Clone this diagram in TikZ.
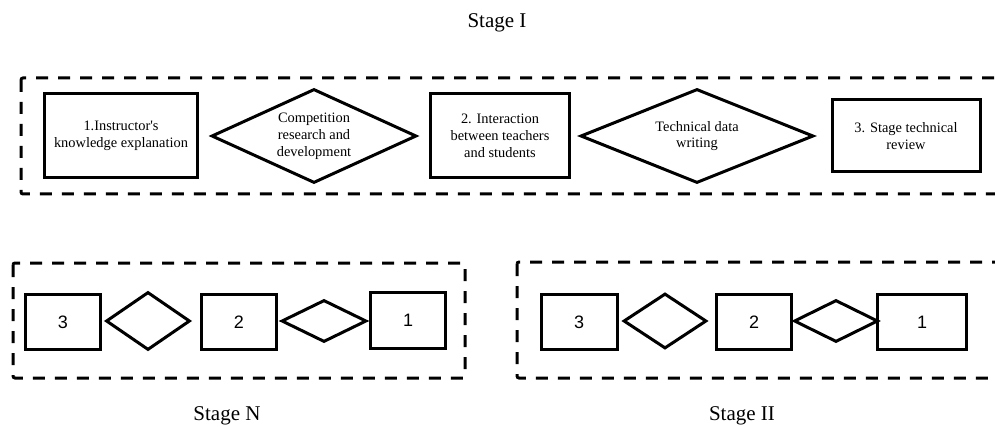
\documentclass[tikz,border=0pt]{standalone}
\usepackage{fontspec}
\setmainfont{Liberation Serif}
\setsansfont{Liberation Sans}
\usetikzlibrary{shapes.geometric}
\tikzset{
  stageframe/.style={draw, line width=1.5pt, dash pattern=on 6pt off 5pt, rounded corners=1pt},
  task/.style={draw, line width=1.5pt, align=center, inner sep=0pt,
    font=\fontsize{7.2}{8.4}\selectfont},
  link/.style={draw, diamond, aspect=2.2, line width=1.5pt, align=center, inner sep=0pt,
    font=\fontsize{7.2}{8.4}\selectfont},
  numbox/.style={draw, line width=1.5pt, inner sep=0pt, minimum height=27.5pt,
    font=\sffamily\fontsize{9}{10}\selectfont},
  stagelabel/.style={font=\fontsize{10.5}{12}\selectfont}
}

\begin{document}
\begin{tikzpicture}[x=0.5pt,y=-0.5pt]
    \useasboundingbox (0,0) rectangle (995,427);
    \clip (0,0) rectangle (995,427);

    % Stage I, top row
    \node[stagelabel] (stageI) at (497,23) {Stage I};
    \draw[stageframe] (21,78) rectangle (1010,194);

    \node[task, minimum width=76.5pt, minimum height=42pt] (explain) at (121,136) {1.Instructor\textquotesingle s\\knowledge explanation};
    \node[link, minimum width=102.5pt, minimum height=47pt] (research) at (314,136) {Competition\\research and\\development};
    \node[task, minimum width=69.5pt, minimum height=42pt] (interact) at (500,136) {2. Interaction\\between teachers\\and students};
    \node[link, aspect=2.5, minimum width=116.5pt, minimum height=47pt] (writing) at (697,136) {Technical data\\writing};
    \node[task, minimum width=74pt, minimum height=36pt] (review) at (906,136) {3. Stage technical\\review};

    % Stage N, bottom left
    \draw[stageframe] (13,263) rectangle (465,378);
    \node[numbox, minimum width=37.5pt] (nthree) at (63,322) {3};
    \node[link, minimum width=42pt, minimum height=29pt] (nlinkA) at (148,321) {};
    \node[numbox, minimum width=37.5pt] (ntwo) at (239,322) {2};
    \node[link, minimum width=42.5pt, minimum height=21pt] (nlinkB) at (324,321) {};
    \node[numbox, minimum width=37.5pt, minimum height=28pt] (none) at (408,320) {1};
    \node[stagelabel] (stageN) at (227,416) {Stage N};

    % Stage II, bottom right
    \draw[stageframe] (517,262) rectangle (1010,378);
    \node[numbox, minimum width=38pt] (iithree) at (579,322) {3};
    \node[link, minimum width=41.5pt, minimum height=27.5pt] (iilinkA) at (665,321) {};
    \node[numbox, minimum width=37.5pt] (iitwo) at (754,322) {2};
    \node[link, minimum width=42pt, minimum height=21pt] (iilinkB) at (836,321) {};
    \node[numbox, minimum width=44.5pt] (iione) at (922,322) {1};
    \node[stagelabel] (stageII) at (742,416) {Stage II};
\end{tikzpicture}
\end{document}
